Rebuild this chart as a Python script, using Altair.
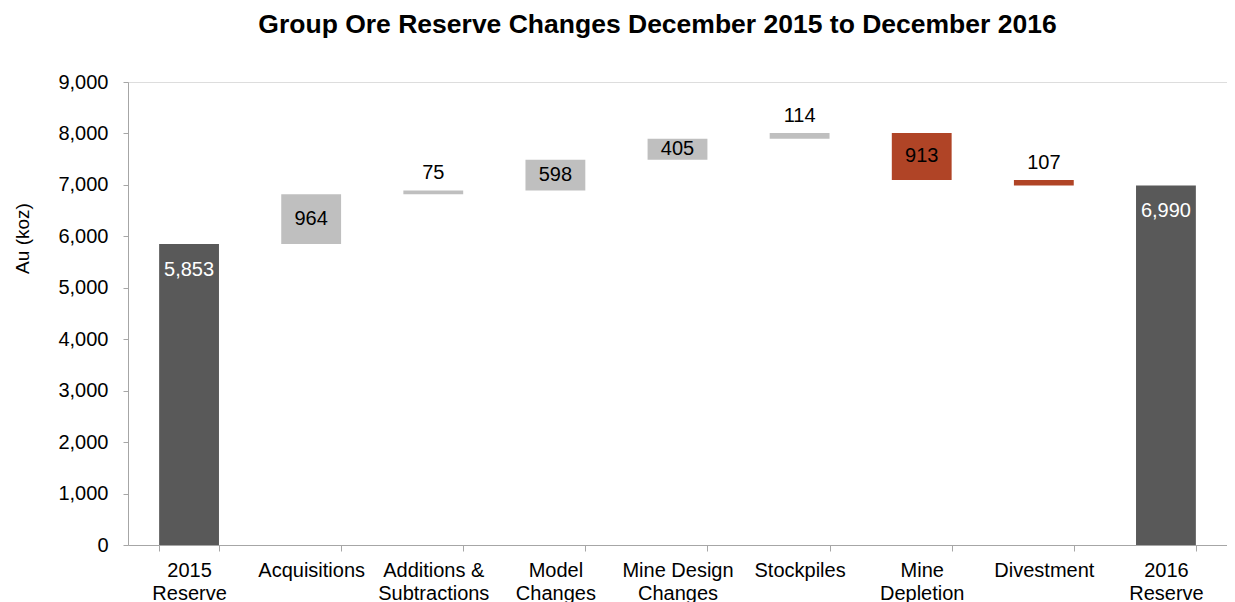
import altair as alt
import pandas as pd

categories = ["2015\nReserve", "Acquisitions", "Additions &\nSubtractions", "Model\nChanges",
              "Mine Design\nChanges", "Stockpiles", "Mine\nDepletion", "Divestment", "2016\nReserve"]
values = [5853, 964, 75, 598, 405, 114, -913, -107, 6990]
kinds = ["total", "increase", "increase", "increase", "increase", "increase", "decrease", "decrease", "total"]
labels = ["5,853", "964", "75", "598", "405", "114", "913", "107", "6,990"]

rows = []
running = 0
for c, v, k, l in zip(categories, values, kinds, labels):
    if k == "total":
        s, e = 0, v
        running = v
    else:
        s, e = running, running + v
        running = e
    if k == "total":
        pos, ly = "total", e
    elif abs(v) < 200:
        pos, ly = "above", max(s, e)
    else:
        pos, ly = "inside", (s + e) / 2
    rows.append({"cat": c, "start": s, "end": e, "kind": k, "label": l, "pos": pos, "ly": ly})
df = pd.DataFrame(rows)

FONT = "Liberation Sans"
AXC = "#a6a6a6"

base = alt.Chart(df)
xenc = alt.X("cat:N", sort=categories,
             scale=alt.Scale(paddingInner=0.51, paddingOuter=0.255),
             axis=alt.Axis(title=None, labelAngle=0, labelFontSize=20, labelLineHeight=23,
                           labelExpr="split(datum.label, '\\n')", tickBand="extent",
                           tickSize=6, labelPadding=9, domainColor=AXC, tickColor=AXC,
                           labelColor="#000000", labelFont=FONT))
yscale = alt.Scale(domain=[0, 9000], nice=False)

bars = base.mark_bar().encode(
    x=xenc,
    y=alt.Y("start:Q", scale=yscale,
            axis=alt.Axis(values=list(range(0, 9001, 1000)), format=",.0f", labelFontSize=20,
                          labelColor="#000000", labelFont=FONT, title="Au (koz)",
                          titleFontSize=19, titleFontWeight="normal", titleColor="#000000",
                          titleFont=FONT, titleAngle=270, titleX=-106, titleY=156,
                          titleAlign="center", titleBaseline="middle",
                          domainColor=AXC, tickColor=AXC, tickSize=5, labelPadding=15,
                          grid=False)),
    y2="end:Q",
    color=alt.Color("kind:N", scale=alt.Scale(domain=["total", "increase", "decrease"],
                                              range=["#595959", "#bfbfbf", "#b04426"]),
                    legend=None),
)

txt_inside = base.transform_filter(alt.datum.pos == "inside").mark_text(
    fontSize=20, font=FONT, color="#000000", baseline="middle").encode(
    x=alt.X("cat:N", sort=categories), y=alt.Y("ly:Q", scale=yscale), text="label:N")

txt_above = base.transform_filter(alt.datum.pos == "above").mark_text(
    fontSize=20, font=FONT, color="#000000", baseline="middle", dy=-17).encode(
    x=alt.X("cat:N", sort=categories), y=alt.Y("ly:Q", scale=yscale), text="label:N")

txt_total = base.transform_filter(alt.datum.pos == "total").mark_text(
    fontSize=20, font=FONT, color="#ffffff", baseline="middle", dy=26).encode(
    x=alt.X("cat:N", sort=categories), y=alt.Y("ly:Q", scale=yscale), text="label:N")

chart = alt.layer(bars, txt_inside, txt_above, txt_total).properties(
    width=1099, height=463,
    title=alt.Title("Group Ore Reserve Changes December 2015 to December 2016",
                    fontSize=26.5, fontWeight="bold", font=FONT, color="#000000",
                    anchor="middle", dx=-20, offset=34),
    autosize=alt.AutoSizeParams(type="none"),
    padding={"left": 120, "top": 74, "right": 0, "bottom": 58},
).configure_view(stroke=None).configure(font=FONT)

chart.save("out.html", embed_options={"renderer": "svg", "actions": False})
